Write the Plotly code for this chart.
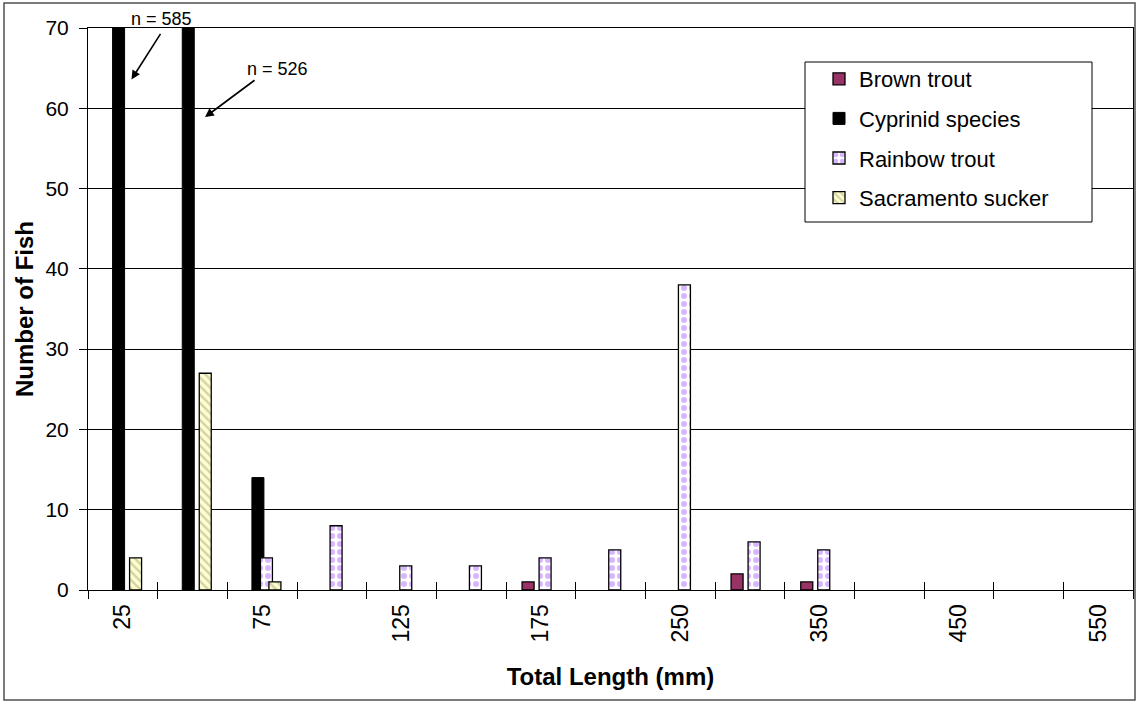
import plotly.graph_objects as go

# Length classes (mm) and the labels printed under every other class
lengths = ["25", "50", "75", "100", "125", "150", "175", "200",
           "250", "300", "350", "400", "450", "500", "550"]
tick_labels = ["25", "", "75", "", "125", "", "175", "",
               "250", "", "350", "", "450", "", "550"]

# Fish counts per length class
brown_trout = [None, None, None, None, None, None, 1, None, None, 2, 1, None, None, None, None]
cyprinid_species = [585, 526, 14, None, None, None, None, None, None, None, None, None, None, None, None]
rainbow_trout = [None, None, 4, 8, 3, 3, 4, 5, 38, 6, 5, None, None, None, None]
sacramento_sucker = [4, 27, 1, None, None, None, None, None, None, None, None, None, None, None, None]

FONT = "Liberation Sans, Arial, sans-serif"

# canvas / plot-area geometry in pixels
W, H = 1139, 702
L, R, T, B = 88, 6, 28, 112
PW, PH = W - L - R, H - T - B


def px_x(p):
    return (p - L) / PW


def px_y(p):
    return (H - B - p) / PH


# clustered bars: width and spacing within one category (category = 1 unit)
BAR_W = 12 / 69.67
STEP = 8.5 / 69.67

series = [
    ("Brown trout", brown_trout, dict(color="#993366", line=dict(color="black", width=1.3))),
    ("Cyprinid species", cyprinid_species, dict(color="black", line=dict(color="black", width=1))),
    ("Rainbow trout", rainbow_trout,
     dict(color="white", line=dict(color="black", width=1.3),
          pattern=dict(shape=".", fgcolor="#B06EFF", bgcolor="white", size=8, solidity=0.45))),
    ("Sacramento sucker", sacramento_sucker,
     dict(color="#FFFFCC", line=dict(color="black", width=1.3),
          pattern=dict(shape="\\", fgcolor="#A5A58A", bgcolor="#FFFFCC", size=6, solidity=0.4))),
]

fig = go.Figure()
n = len(series)
for i, (name, vals, marker) in enumerate(series):
    centre = (i - (n - 1) / 2) * STEP
    fig.add_trace(go.Bar(
        x=lengths, y=vals, name=name, marker=marker,
        width=BAR_W, offset=centre - BAR_W / 2,
        legendgroup=name,
    ))

# inside half of the crossing tick marks on the category axis
fig.add_trace(go.Scatter(x=[None], y=[None], xaxis="x2", showlegend=False, hoverinfo="skip"))

# legend frame (drawn over gridlines)
fig.add_shape(type="rect", xref="paper", yref="paper",
              x0=px_x(805), x1=px_x(1092), y0=px_y(222), y1=px_y(62),
              line=dict(color="black", width=1), fillcolor="white", layer="above")
# outer chart border
fig.add_shape(type="rect", xref="paper", yref="paper",
              x0=px_x(4), x1=px_x(1135), y0=px_y(700), y1=px_y(3),
              line=dict(color="#505050", width=1.5), fillcolor="rgba(0,0,0,0)", layer="above")

# value notes for the clipped bars
fig.add_annotation(x=px_x(161.5), y=px_y(19), xref="paper", yref="paper", text="n = 585",
                   xanchor="center", yanchor="middle",
                   showarrow=False, font=dict(family=FONT, size=18, color="black"))
fig.add_annotation(x=px_x(277.5), y=px_y(69), xref="paper", yref="paper", text="n = 526",
                   xanchor="center", yanchor="middle",
                   showarrow=False, font=dict(family=FONT, size=18, color="black"))
fig.add_annotation(x=0.124, y=63.6, xref="x", yref="y", text="", showarrow=True,
                   ax=30, ay=-47, arrowhead=2, arrowsize=1.1, arrowwidth=1.6, arrowcolor="black")
fig.add_annotation(x=1.18, y=58.9, xref="x", yref="y", text="", showarrow=True,
                   ax=51, ay=-38, arrowhead=2, arrowsize=1.1, arrowwidth=1.6, arrowcolor="black")

ncat = len(lengths)
fig.update_layout(
    width=W, height=H,
    margin=dict(l=L, r=R, t=T, b=B, pad=0),
    paper_bgcolor="white", plot_bgcolor="white",
    barmode="overlay",
    font=dict(family=FONT, color="black"),
    showlegend=True,
    legend=dict(
        x=px_x(819), y=px_y(58), xanchor="left", yanchor="top",
        bgcolor="rgba(0,0,0,0)", borderwidth=0,
        font=dict(family=FONT, size=22, color="black"),
        traceorder="grouped", tracegroupgap=8,
    ),
    xaxis=dict(
        type="category", categoryorder="array", categoryarray=lengths,
        range=[-0.5, ncat - 0.5],
        tickmode="array", tickvals=lengths, ticktext=tick_labels,
        tickangle=-90, tickfont=dict(family=FONT, size=23, color="black"),
        ticks="outside", ticklen=8, tickcolor="black", tickson="boundaries",
        ticklabelstandoff=4,
        showline=True, linecolor="black", linewidth=1, mirror=True,
        showgrid=False, zeroline=False,
        title=dict(text="Total Length (mm)", standoff=26,
                   font=dict(family=FONT, size=24, color="black", weight="bold")),
    ),
    xaxis2=dict(
        overlaying="x", anchor="y", side="bottom", type="linear",
        range=[-0.5, ncat - 0.5],
        tickmode="array", tickvals=[k - 0.5 for k in range(ncat + 1)],
        ticks="inside", ticklen=8, tickcolor="black",
        showticklabels=False, showgrid=False, zeroline=False, showline=False,
    ),
    yaxis=dict(
        range=[0, 70], dtick=10, tick0=0,
        tickfont=dict(family=FONT, size=21, color="black"),
        ticks="outside", ticklen=8, tickcolor="black",
        ticklabelstandoff=6,
        showline=True, linecolor="black", linewidth=1, mirror=True,
        showgrid=True, gridcolor="black", gridwidth=1, zeroline=False,
        title=dict(text="Number of Fish", standoff=5,
                   font=dict(family=FONT, size=24, color="black", weight="bold")),
    ),
)

fig.write_html("out.html")
